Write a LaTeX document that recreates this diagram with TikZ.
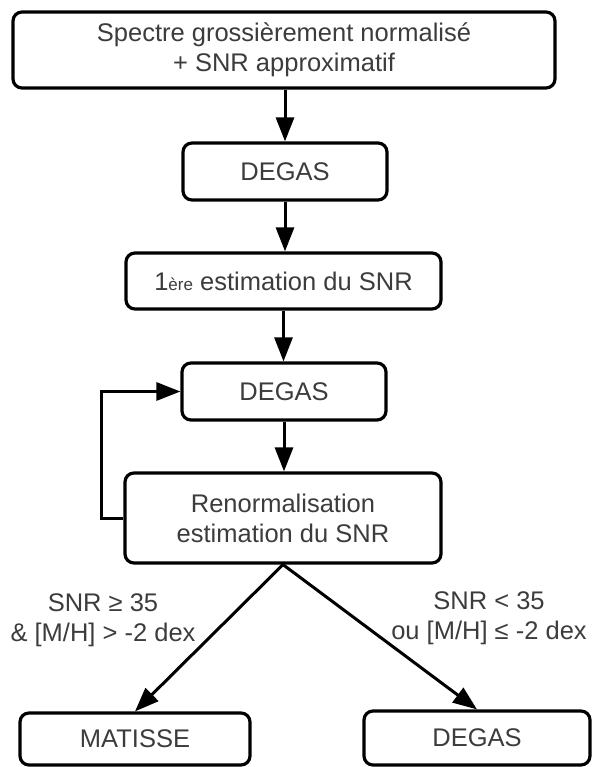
\documentclass[tikz,border=0pt]{standalone}
\usepackage{fontspec}
\setmainfont{Liberation Sans}
\usetikzlibrary{arrows.meta,calc}
\definecolor{txt}{HTML}{3C3C3C}
\tikzset{
  box/.style={draw=black, line width=3.2pt, rounded corners=9pt, fill=white,
    text=txt, align=center, inner sep=0pt,
    font=\fontsize{25.5}{30}\selectfont},
  arr/.style={draw=black, line width=3pt,
    -{Triangle[length=24pt,width=18pt]}},
  lbl/.style={text=txt, align=center, inner sep=0pt,
    font=\fontsize{25.5}{30}\selectfont}
}
\begin{document}
\begin{tikzpicture}[x=1pt,y=-1pt]
\useasboundingbox (0,0) rectangle (592,767);
\node[box, minimum width=542pt, minimum height=76pt] (top) at (284,50)
  {Spectre grossièrement normalisé\\+ SNR approximatif};
\node[box, minimum width=204pt, minimum height=57pt] (degasA) at (285,171.5) {DEGAS};
\node[box, minimum width=315pt, minimum height=56pt] (est) at (283.5,281)
  {1{\fontsize{17}{17}\selectfont ère} estimation du SNR};
\node[box, minimum width=204pt, minimum height=57pt] (degasB) at (284,391.5) {DEGAS};
\node[box, minimum width=316pt, minimum height=90pt] (renorm) at (283,518)
  {Renormalisation\\estimation du SNR};
\node[box, minimum width=230pt, minimum height=52pt] (matisse) at (135,739) {MATISSE};
\node[box, minimum width=226pt, minimum height=54pt] (degasC) at (477,738) {DEGAS};
\node[lbl] (lblL) at (103,620) {SNR ≥ 35\\\& [M/H] > -2 dex};
\node[lbl] (lblR) at (489,618) {SNR < 35\\ou [M/H] ≤ -2 dex};
\draw[arr] (top.south -| degasA) -- (degasA.north);
\draw[arr] (degasA.south) -- (degasA.south |- est.north);
\draw[arr] (est.south) -- (est.south |- degasB.north);
\draw[arr] (degasB.south) -- (degasB.south |- renorm.north);
\draw[arr] (renorm.west) -- ++(-22,0) |- (degasB.west);
\draw[arr] (renorm.south) -- (matisse.north);
\draw[arr] (renorm.south) -- (degasC.north);
\end{tikzpicture}
\end{document}
